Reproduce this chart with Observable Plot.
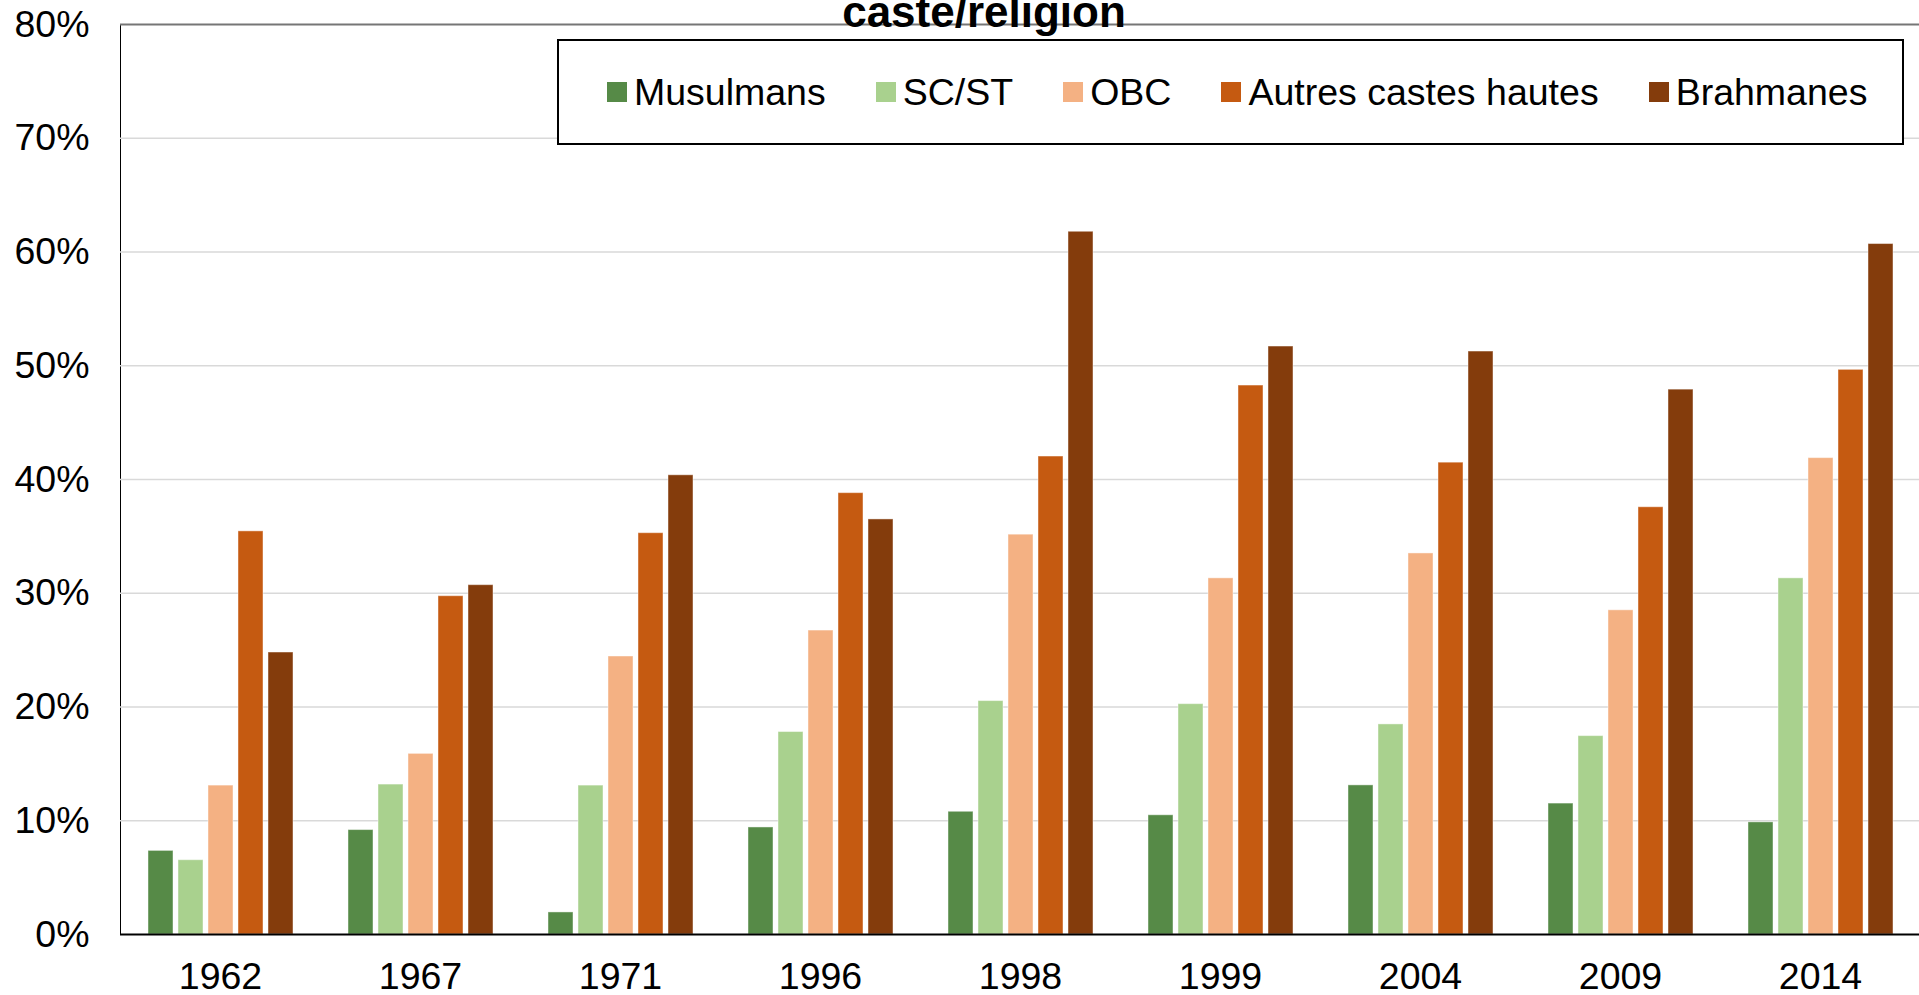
<!DOCTYPE html>
<html>
<head>
<meta charset="utf-8">
<script src="https://cdn.jsdelivr.net/npm/d3@7"></script>
<script src="https://cdn.jsdelivr.net/npm/@observablehq/plot@0.6"></script>
<style>
  html, body { margin: 0; padding: 0; background: #fff; }
  body { width: 1919px; height: 995px; position: relative; overflow: hidden;
         font-family: "Liberation Sans", Arial, sans-serif; }
  #chart { position: absolute; left: 0; top: 0; }
  #title { position: absolute; top: -10px; left: 984px; transform: translateX(-50%);
           font-size: 44px; line-height: 44px; font-weight: bold; color: #000; white-space: nowrap; }
  #legend { position: absolute; left: 557px; top: 39px; width: 1347px; height: 106px;
            box-sizing: border-box; border: 2px solid #000; background: #fff;
            display: flex; align-items: center; padding-left: 48px; gap: 50px;
            font-size: 37.5px; color: #000; }
  .item { display: flex; align-items: center; white-space: nowrap; }
  .sw { width: 20px; height: 20px; margin-right: 7px; }
</style>
</head>
<body>
<div id="chart"></div>
<div id="title">caste/religion</div>
<div id="legend"></div>
<script>
const years = ["1962", "1967", "1971", "1996", "1998", "1999", "2004", "2009", "2014"];
const series = ["Musulmans", "SC/ST", "OBC", "Autres castes hautes", "Brahmanes"];
const colors = ["#568a47", "#a9d18e", "#f4b183", "#c55a11", "#843c0c"];
const musulmans = [7.35, 9.18, 1.94, 9.41, 10.79, 10.48, 13.11, 11.51, 9.86];
const scst = [6.53, 13.18, 13.09, 17.80, 20.52, 20.25, 18.47, 17.44, 31.31];
const obc = [13.09, 15.88, 24.44, 26.72, 35.15, 31.31, 33.50, 28.50, 41.88];
const autres = [35.44, 29.74, 35.28, 38.80, 42.02, 48.26, 41.48, 37.56, 49.64];
const brahmanes = [24.79, 30.71, 40.37, 36.49, 61.78, 51.69, 51.25, 47.90, 60.70];
const yTicks = [0, 10, 20, 30, 40, 50, 60, 70, 80];
const gridTicks = [10, 20, 30, 40, 50, 60, 70];

const seriesValues = [musulmans, scst, obc, autres, brahmanes];
const rows = [];
years.forEach((yr, i) => {
  series.forEach((s, j) => rows.push({year: yr, series: s, value: seriesValues[j][i]}));
});

const chart = Plot.plot({
  width: 1919,
  height: 995,
  marginLeft: 118,
  marginRight: -3,
  marginTop: 24,
  marginBottom: 61,
  style: {fontSize: "37.5px", fontFamily: "'Liberation Sans', Arial, sans-serif", color: "#000", background: "transparent", overflow: "visible"},
  facet: {data: rows, x: "year"},
  fx: {domain: years, paddingInner: 0, paddingOuter: 0, tickSize: 0, tickPadding: 28, label: null},
  x: {domain: series, paddingInner: 0.17, paddingOuter: 0.832, axis: null},
  y: {domain: [0, 80], ticks: yTicks, tickFormat: d => d + "%", tickSize: 0, tickPadding: 31, label: null, line: true},
  color: {domain: series, range: colors},
  marks: [
    Plot.ruleY(gridTicks, {stroke: "#d9d9d9", strokeWidth: 1.3}),
    Plot.ruleY([80], {stroke: "#767676", strokeWidth: 2}),
    Plot.barY(rows, {x: "series", y: "value", fill: "series", stroke: "#ffffff", strokeOpacity: 0.45, strokeWidth: 1}),
    Plot.ruleY([0], {stroke: "#000", strokeWidth: 2})
  ]
});
document.getElementById("chart").appendChild(chart);

const legend = document.getElementById("legend");
series.forEach((s, j) => {
  const it = document.createElement("div");
  it.className = "item";
  const sw = document.createElement("div");
  sw.className = "sw";
  sw.style.background = colors[j];
  const tx = document.createElement("span");
  tx.textContent = s;
  it.appendChild(sw);
  it.appendChild(tx);
  legend.appendChild(it);
});
</script>
</body>
</html>
